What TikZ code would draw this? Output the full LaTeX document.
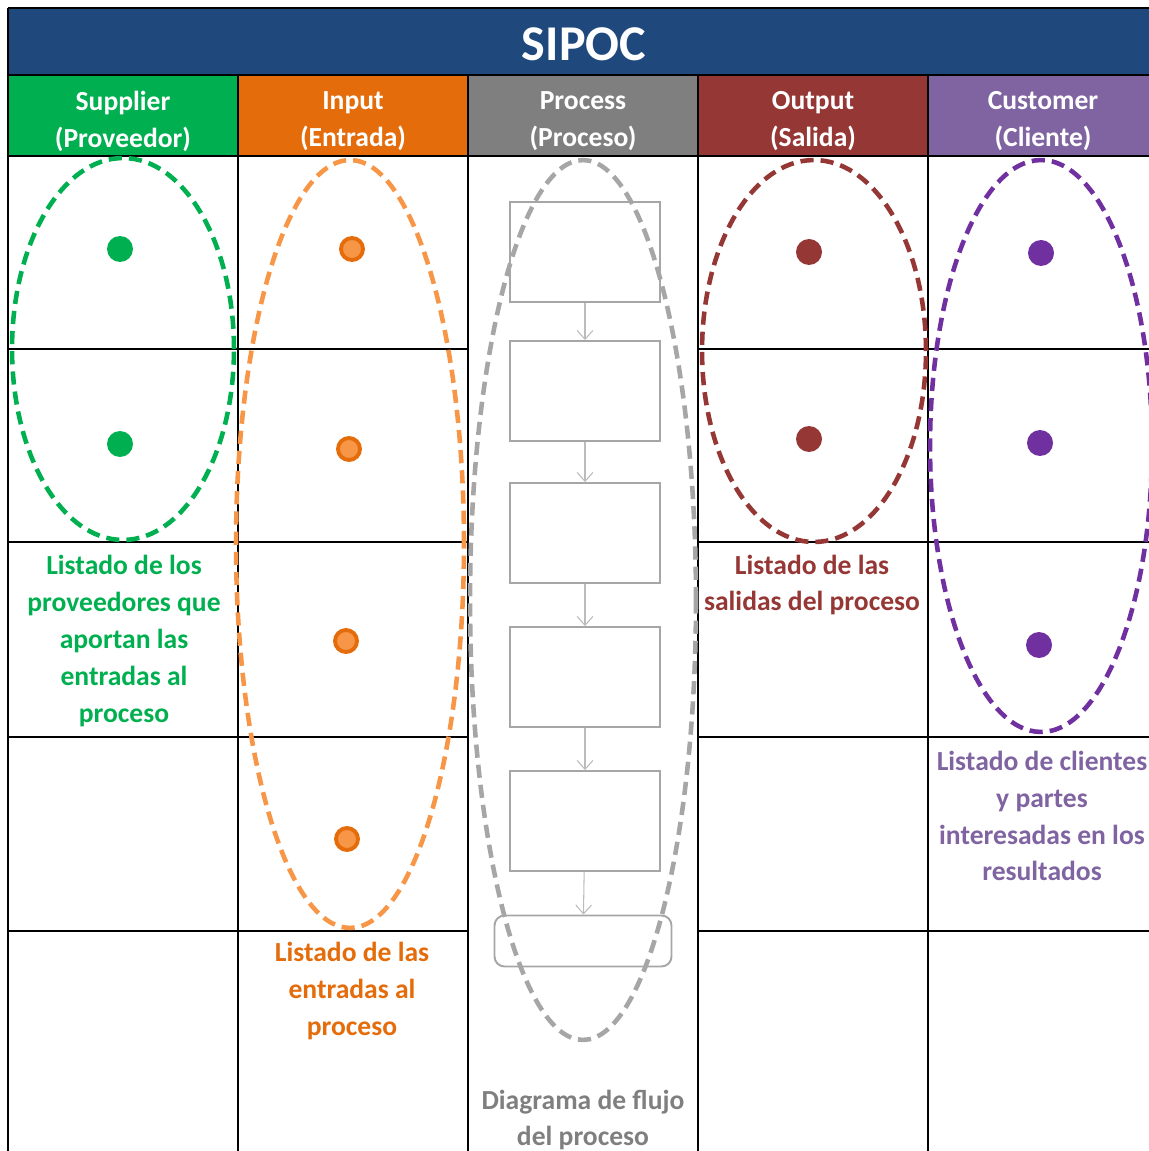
\documentclass[tikz,border=0pt]{standalone}
\usepackage{fontspec}
\setmainfont{Carlito}
\usetikzlibrary{arrows.meta}

\definecolor{sipocblue}{HTML}{1F497D}
\definecolor{supgreen}{HTML}{00B050}
\definecolor{inorange}{HTML}{E46C0A}
\definecolor{inlight}{HTML}{F79646}
\definecolor{progray}{HTML}{7F7F7F}
\definecolor{prolight}{HTML}{A6A6A6}
\definecolor{outred}{HTML}{953735}
\definecolor{custpurple}{HTML}{8064A2}
\definecolor{custdark}{HTML}{7030A0}

\tikzset{
  cellline/.style={line width=1.2pt, black},
  lasso/.style={line width=2.6pt, dash pattern=on 7.5pt off 4pt},
  headtext/.style={text=white, align=center, font=\fontsize{15.7}{21}\selectfont\bfseries},
  listtext/.style={align=center, font=\fontsize{15.7}{21}\selectfont\bfseries},
  dot/.style={circle, fill=#1, inner sep=0pt, minimum size=0.52cm},
  odot/.style={circle, draw=inorange, line width=2.2pt, fill=inlight, inner sep=0pt, minimum size=0.44cm},
  flowbox/.style={draw=prolight, line width=1.1pt, minimum width=3cm, minimum height=#1},
  flowarrow/.style={draw=prolight!75, line width=0.6pt, -{Straight Barb[length=5pt, width=9pt]}}
}

\begin{document}
\begin{tikzpicture}[x=0.02cm, y=-0.02cm]
  \useasboundingbox (0,0) rectangle (1148,1151);

  % title band and headers
  \fill[sipocblue] (8,8) rectangle (1160,75);
  \fill[supgreen] (8,75) rectangle (238,156);
  \fill[inorange] (238,75) rectangle (468,156);
  \fill[progray] (468,75) rectangle (698,156);
  \fill[outred] (698,75) rectangle (928,156);
  \fill[custpurple] (928,75) rectangle (1160,156);

  % table lines
  \foreach \y in {8,75,156}{
    \draw[cellline] (8,\y) -- (1160,\y);
  }
  \draw[cellline] (8,8) -- (8,1160);
  \foreach \x in {238,468,698,928}{
    \draw[cellline] (\x,75) -- (\x,1160);
  }
  \foreach \y in {349,542,737,931}{
    \draw[cellline] (8,\y) -- (468,\y);
    \draw[cellline] (698,\y) -- (1160,\y);
  }

  % titles
  \node[text=white, font=\fontsize{28.5}{32}\selectfont\bfseries] (title) at (584,44) {SIPOC};
  \node[headtext] (hS) at (123,121) {Supplier\\(Proveedor)};
  \node[headtext] (hI) at (353,121) {Input\\(Entrada)};
  \node[headtext] (hP) at (583,121) {Process\\(Proceso)};
  \node[headtext] (hO) at (813,121) {Output\\(Salida)};
  \node[headtext] (hC) at (1043,121) {Customer\\(Cliente)};

  % flow chart
  \node[flowbox=2cm] (p1) at (585,252) {};
  \node[flowbox=2cm] (p2) at (585,391) {};
  \node[flowbox=2cm] (p3) at (585,533) {};
  \node[flowbox=2cm] (p4) at (585,677) {};
  \node[flowbox=2cm] (p5) at (585,821) {};
  \node[flowbox=1.02cm, minimum width=3.54cm, rounded corners=0.2cm] (p6) at (583,941) {};
  \draw[flowarrow] (p1) -- (p2);
  \draw[flowarrow] (p2) -- (p3);
  \draw[flowarrow] (p3) -- (p4);
  \draw[flowarrow] (p4) -- (p5);
  \draw[flowarrow] (p5) -- (p6);

  % dashed groups
  \draw[lasso, supgreen] (123,349) ellipse [x radius=2.22cm, y radius=3.82cm];
  \draw[lasso, inlight] (350,544) ellipse [x radius=2.28cm, y radius=7.68cm];
  \draw[lasso, prolight] (583,600) ellipse [x radius=2.26cm, y radius=8.8cm];
  \draw[lasso, outred] (814,351) ellipse [x radius=2.24cm, y radius=3.82cm];
  \draw[lasso, custdark] (1041,446) ellipse [x radius=2.22cm, y radius=5.72cm];

  % items
  \node[dot=supgreen] (s1) at (120,249) {};
  \node[dot=supgreen] (s2) at (120,444) {};
  \node[odot] (i1) at (352,249) {};
  \node[odot] (i2) at (349,449) {};
  \node[odot] (i3) at (346,641) {};
  \node[odot] (i4) at (347,839) {};
  \node[dot=outred] (o1) at (809,252) {};
  \node[dot=outred] (o2) at (809,439) {};
  \node[dot=custdark] (c1) at (1041,253) {};
  \node[dot=custdark] (c2) at (1040,443) {};
  \node[dot=custdark] (c3) at (1039,645) {};

  % descriptions
  \node[listtext, text=supgreen] (tS) at (124,641) {Listado de los\\proveedores que\\aportan las\\entradas al\\proceso};
  \node[listtext, text=inorange] (tI) at (352,991) {Listado de las\\entradas al\\proceso};
  \node[listtext, text=progray] (tP) at (583,1120) {Diagrama de flujo\\del proceso};
  \node[listtext, text=outred] (tO) at (812,585) {Listado de las\\salidas del proceso};
  \node[listtext, text=custpurple] (tC) at (1042,816) {Listado de clientes\\y partes\\interesadas en los\\resultados};
\end{tikzpicture}
\end{document}
